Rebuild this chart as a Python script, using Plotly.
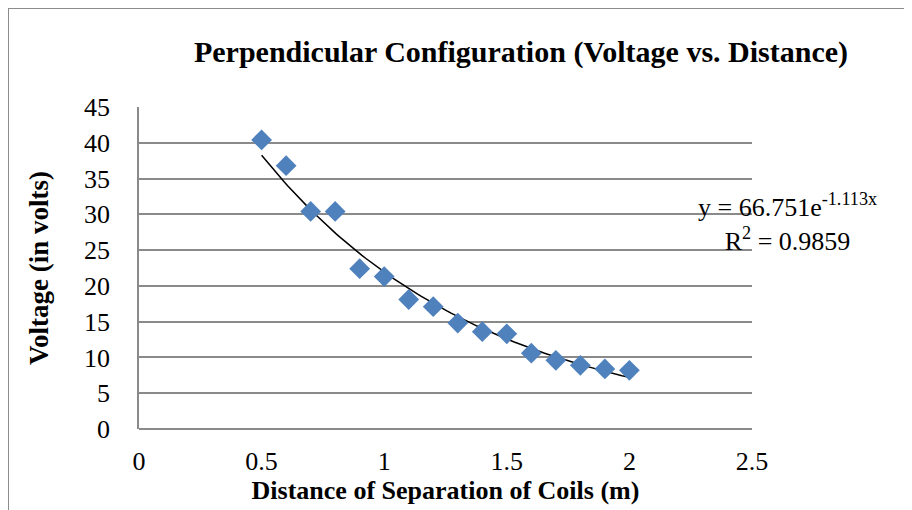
import numpy as np
import plotly.graph_objects as go

distance = [0.5, 0.6, 0.7, 0.8, 0.9, 1.0, 1.1, 1.2, 1.3, 1.4, 1.5, 1.6, 1.7, 1.8, 1.9, 2.0]
voltage = [40.4, 36.8, 30.4, 30.4, 22.4, 21.3, 18.1, 17.1, 14.8, 13.6, 13.3, 10.6, 9.6, 8.9, 8.4, 8.2]

fit_a = 66.751
fit_b = -1.113
fit_r2 = 0.9859

x_ticks = [0, 0.5, 1, 1.5, 2, 2.5]
y_ticks = [0, 5, 10, 15, 20, 25, 30, 35, 40, 45]

xf = np.linspace(min(distance), max(distance), 100)
yf = fit_a * np.exp(fit_b * xf)

serif = "Liberation Serif, Times New Roman, serif"
grid = "#8a8a8a"

fig = go.Figure()
fig.add_trace(go.Scatter(x=xf, y=yf, mode="lines",
                         line=dict(color="black", width=1.5), showlegend=False, hoverinfo="skip"))
fig.add_trace(go.Scatter(x=distance, y=voltage, mode="markers",
                         marker=dict(symbol="diamond", size=16, color="#4F81BD"),
                         showlegend=False))

fig.update_layout(
    width=912, height=510,
    margin=dict(l=131, r=168, t=99, b=89),
    paper_bgcolor="white", plot_bgcolor="white",
    title=dict(text="<b>Perpendicular Configuration (Voltage vs. Distance)</b>",
               x=0.5625, xanchor="center", y=0.914, yanchor="middle",
               font=dict(family=serif, size=30, color="black")),
    font=dict(family=serif, color="black"),
    xaxis=dict(range=[0, 2.5], tickvals=x_ticks, ticktext=[str(t) for t in x_ticks],
               showgrid=False, zeroline=False, showline=False, ticks="",
               tickfont=dict(family=serif, size=26), ticklabelstandoff=14,
               title=dict(text="<b>Distance of Separation of Coils (m)</b>",
                          font=dict(family=serif, size=26), standoff=2)),
    yaxis=dict(range=[0, 45], tickvals=y_ticks, ticktext=[str(t) for t in y_ticks],
               showgrid=True, gridcolor=grid, gridwidth=1.5,
               zeroline=True, zerolinecolor=grid, zerolinewidth=1.5,
               showline=True, linecolor=grid, linewidth=1.5, ticks="",
               tickfont=dict(family=serif, size=26), ticklabelstandoff=22,
               title=dict(text="<b>Voltage (in volts)</b>",
                          font=dict(family=serif, size=27), standoff=28)),
)

fig.add_annotation(
    x=(787 - 139) / 613, y=28.9, xref="paper", yref="y",
    xanchor="center", yanchor="middle", align="center", showarrow=False,
    text=f"y = {fit_a}e<sup>{fit_b}x</sup><br>R<sup>2</sup> = {fit_r2}",
    font=dict(family=serif, size=26, color="black"),
)

fig.add_shape(type="rect", xref="paper", yref="paper",
              x0=-131 / 613, x1=(899 - 131) / 613, y0=-0.4, y1=1 + 99 / 322,
              line=dict(color="#8c8c8c", width=2), fillcolor="rgba(0,0,0,0)", layer="below")

fig.write_html("out.html")
